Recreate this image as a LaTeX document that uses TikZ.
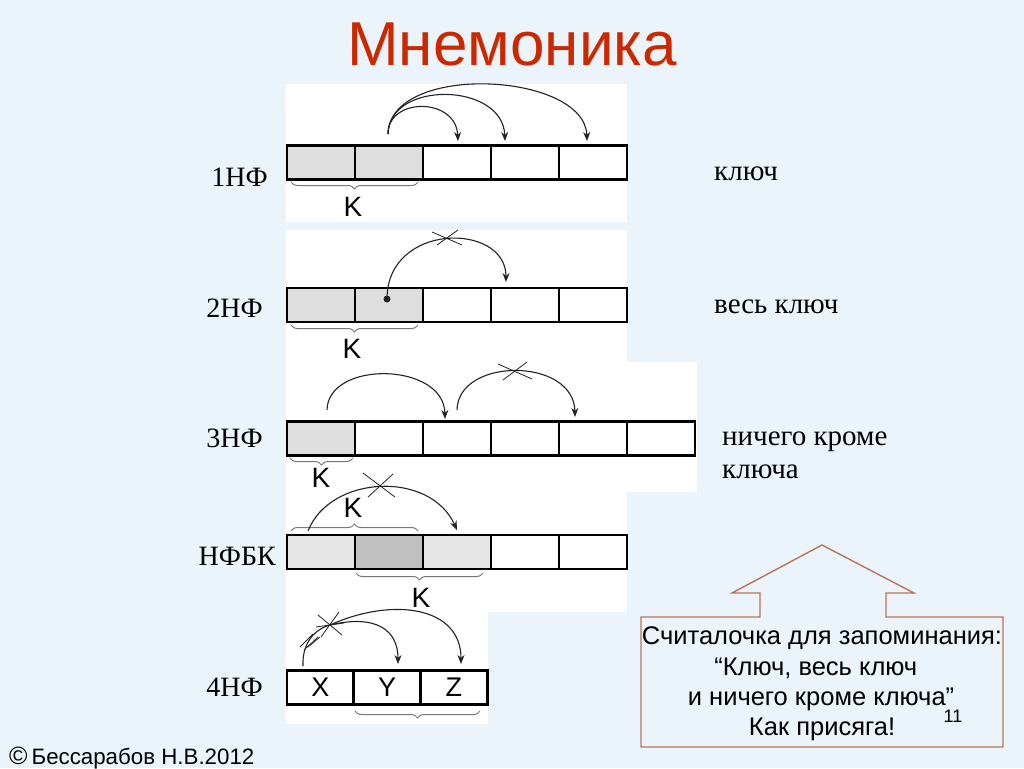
\documentclass[tikz,border=0pt]{standalone}
\usepackage{fontspec}
\setmainfont{Liberation Serif}
\newfontfamily\arial{Liberation Sans}
\usetikzlibrary{decorations.pathreplacing,arrows.meta}
\definecolor{bg}{RGB}{234,244,250}
\definecolor{lg}{RGB}{222,222,222}
\definecolor{lgb}{RGB}{230,230,230}
\definecolor{mg}{RGB}{192,192,192}
\definecolor{arrowc}{RGB}{35,35,35}
\definecolor{bracec}{RGB}{120,120,120}
\definecolor{brownc}{RGB}{185,115,85}
\definecolor{titlec}{RGB}{204,40,0}
\begin{document}
\begin{tikzpicture}[x=1pt,y=-1pt,
  cellbox/.style={draw=black,line width=2.8pt,minimum width=68pt,minimum height=34pt,inner sep=0pt,outer sep=0pt},
  arr/.style={draw=arrowc,line width=1.1pt,-{Stealth[length=9pt,width=7pt]}},
  link/.style={draw=arrowc,line width=1.1pt},
  xmark/.style={draw=arrowc,line width=0.8pt},
  kbrace/.style={draw=bracec,line width=1pt,decorate,decoration={brace,amplitude=7pt}},
  kbracedown/.style={draw=bracec,line width=1pt,decorate,decoration={brace,mirror,amplitude=7pt}},
  klabel/.style={font=\arial\fontsize{28}{32}\selectfont,inner sep=0pt},
  nflabel/.style={font=\fontsize{28}{32}\selectfont,anchor=base east,inner sep=0pt},
  rlabel/.style={font=\fontsize{29}{33}\selectfont,anchor=base west,inner sep=0pt},
  boxtext/.style={font=\arial\fontsize{25.5}{30}\selectfont,anchor=base,inner sep=0pt},
]
\useasboundingbox (0,0) rectangle (1024,768);
\fill[bg] (0,0) rectangle (1024,768);
% title
\node[font=\arial\fontsize{62}{70}\selectfont,text=titlec,anchor=base,inner sep=0pt] (title) at (512,66) {Мнемоника};
% white panels
\fill[white] (286,84) rectangle (627,222);
\fill[white] (286,230) rectangle (627,362);
\fill[white] (286,362) rectangle (697,492);
\fill[white] (286,492) rectangle (627,612);
\fill[white] (286,612) rectangle (488,724);
% ---- 1NF
\foreach \i/\c in {1/lg,2/lg,3/white,4/white,5/white}
  \node[cellbox,fill=\c] (a\i) at ({287+68*\i-34},162.5) {};
\node[nflabel] (la) at (268,186) {1НФ};
\node[rlabel] (ra) at (714,180) {ключ};
\draw[kbracedown] (291,182) -- (418,182);
\node[klabel] (ka) at (353,207) {K};
\coordinate (as) at (388,134);
\coordinate (at1) at (458,141);
\coordinate (at2) at (505,141);
\coordinate (at3) at (587,141);
\draw[arr] (as) .. controls (388,97) and (456,97) .. (at1);
\draw[arr] (as) .. controls (389,80) and (503,82) .. (at2);
\draw[arr] (as) .. controls (390,62) and (585,72) .. (at3);
% ---- 2NF
\foreach \i/\c in {1/lg,2/lg,3/white,4/white,5/white}
  \node[cellbox,fill=\c] (b\i) at ({287+68*\i-34},305) {};
\node[nflabel] (lb) at (263,317) {2НФ};
\node[rlabel] (rb) at (714,313) {весь ключ};
\draw[kbracedown] (291,325) -- (418,325);
\node[klabel] (kb) at (352,349) {K};
\node[circle,fill=arrowc,inner sep=0pt,minimum size=7pt] (bdot) at (387,299) {};
\coordinate (bt) at (506,282);
\draw[arr] (bdot.center) .. controls (387,222) and (506,222) .. (bt);
\coordinate (bx) at (447,238);
\draw[xmark] ([shift={(-15,-6)}]bx) -- ([shift={(15,7)}]bx);
\draw[xmark] ([shift={(-10,7)}]bx) -- ([shift={(11,-8)}]bx);
% ---- 3NF
\foreach \i/\c in {1/lg,2/white,3/white,4/white,5/white,6/white}
  \node[cellbox,fill=\c] (c\i) at ({287+68*\i-34},438.5) {};
\node[nflabel] (lc) at (263,447) {3НФ};
\node[rlabel] (rc1) at (722,445) {ничего кроме};
\node[rlabel] (rc2) at (722,478) {ключа};
\draw[kbracedown] (290,458) -- (353,458);
\node[klabel] (kc) at (321,478) {K};
\coordinate (cs1) at (327,410);
\coordinate (ct1) at (445,419);
\coordinate (cs2) at (457,410);
\coordinate (ct2) at (575,417);
\draw[arr] (cs1) .. controls (328,360) and (444,362) .. (ct1);
\draw[arr] (cs2) .. controls (458,357) and (574,357) .. (ct2);
\coordinate (cx) at (515,371);
\draw[xmark] ([shift={(-17,-7)}]cx) -- ([shift={(17,8)}]cx);
\draw[xmark] ([shift={(-12,9)}]cx) -- ([shift={(12,-9)}]cx);
% ---- NFBK
\foreach \i/\c in {1/lgb,2/mg,3/lgb,4/white,5/white}
  \node[cellbox,fill=\c] (d\i) at ({287+68*\i-34},552) {};
\node[nflabel] (ld) at (276,565) {НФБК};
\draw[kbrace] (291,531) -- (418,531);
\node[klabel] (kd1) at (353,508) {K};
\draw[kbracedown] (356,573) -- (483,573);
\node[klabel] (kd2) at (421,598) {K};
\coordinate (ds) at (308,531);
\coordinate (dt) at (457,530);
\draw[arr] (ds) .. controls (330,475) and (430,470) .. (dt);
\coordinate (dx) at (379,486);
\draw[xmark] ([shift={(-16,-13)}]dx) -- ([shift={(16,11)}]dx);
\draw[xmark] ([shift={(-11,11)}]dx) -- ([shift={(14,-12)}]dx);
% ---- 4NF
\foreach \i/\t in {1/X,2/Y,3/Z}
  \node[cellbox,minimum width=66.7pt,font=\arial\fontsize{27}{30}\selectfont] (e\i) at ({287+66.7*\i-33.35},687.5) {\t};
\node[nflabel] (le) at (263,696) {4НФ};
\draw[kbracedown] (355,711) -- (480,711);
\coordinate (es) at (303,666);
\coordinate (ex) at (330,625);
\coordinate (ety) at (398,664);
\coordinate (etz) at (461,664);
\draw[link] (es) .. controls (302,646) and (312,630) .. (ex);
\draw[arr] (ex) .. controls (376,614) and (398,630) .. (ety);
\draw[arr] (ex) .. controls (392,597) and (461,606) .. (etz);
\draw[xmark] ([shift={(-12,-10)}]ex) -- ([shift={(12,10)}]ex);
\draw[xmark] ([shift={(-9,12)}]ex) -- ([shift={(9,-13)}]ex);
\draw[xmark] ([shift={(-14,2)}]ex) -- ([shift={(14,-2)}]ex);
\draw[xmark] (300,647) -- (313,634);
\draw[xmark] (304,650) -- (318,637);
\draw[xmark] (308,647) -- (320,637);
% ---- house callout
\draw[brownc,line width=1.4pt,fill=bg] (641,617) -- (760,617) -- (760,593) -- (732,593) -- (822,545) -- (914,593) -- (886,593) -- (886,617) -- (1003,617) -- (1003,747) -- (641,747) -- cycle;
\node[boxtext] (h1) at (822,644) {Считалочка для запоминания:};
\node[boxtext] (h2) at (820,675) {“Ключ, весь ключ\phantom{”}};
\node[boxtext] (h3) at (821,705) {и ничего кроме ключа”};
\node[boxtext] (h4) at (822,735) {Как присяга!};
\node[font=\arial\fontsize{18}{22}\selectfont,anchor=base,inner sep=0pt] (pg) at (953,722) {11};
% ---- footer
\node[font=\arial\fontsize{22.3}{26}\selectfont,anchor=base west,inner sep=0pt] (foot) at (9,764) {{\fontsize{25}{26}\selectfont ©}\hspace{4pt}Бессарабов Н.В.2012};
\end{tikzpicture}
\end{document}
